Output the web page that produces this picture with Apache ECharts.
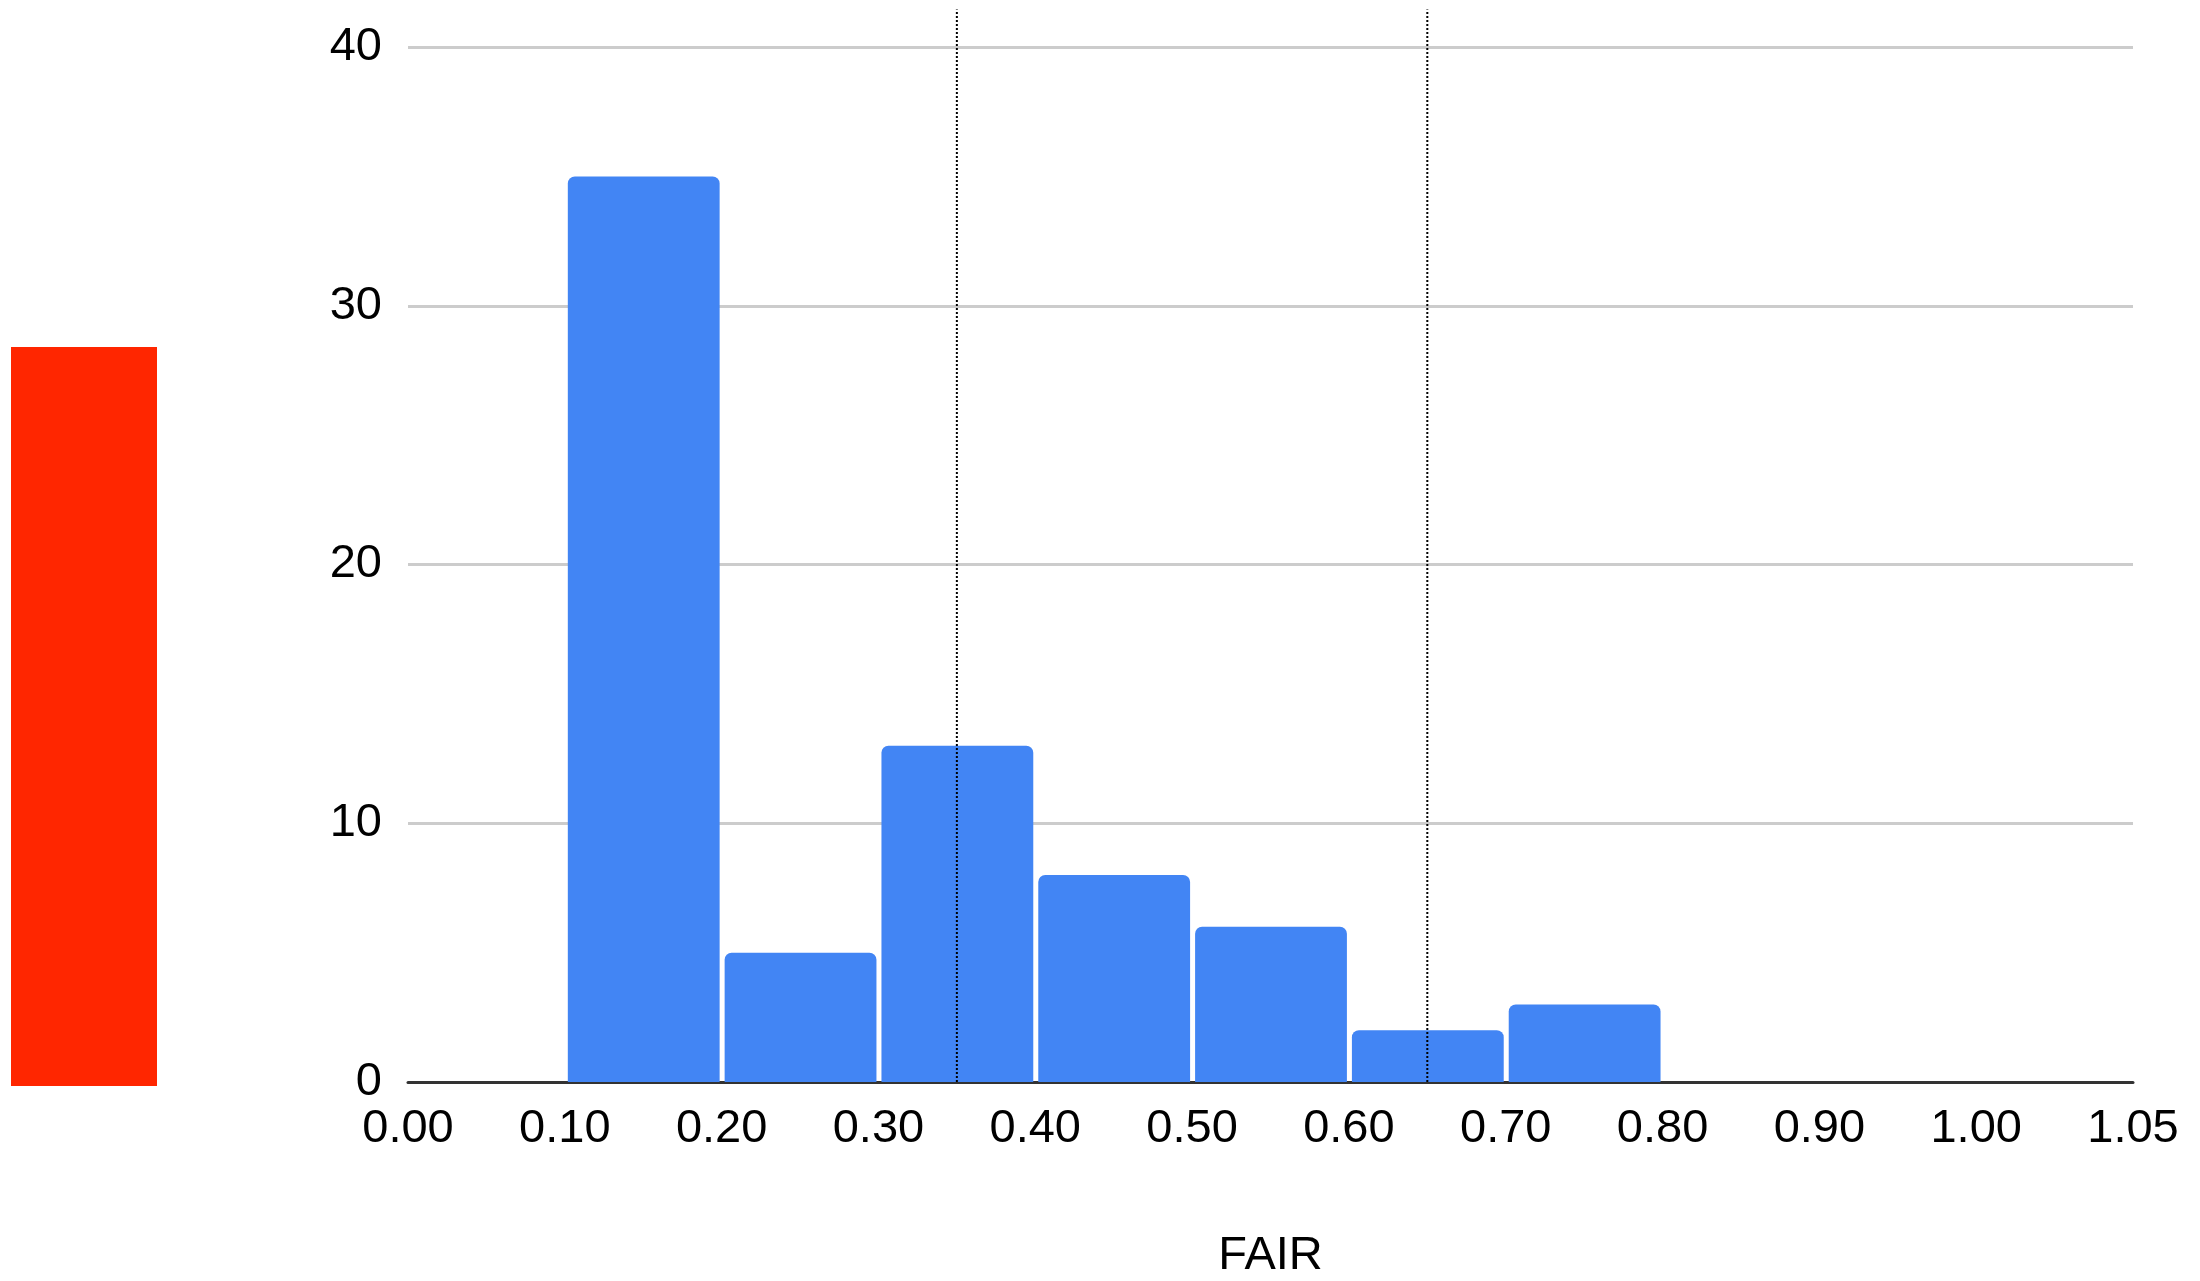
<!DOCTYPE html>
<html>
<head>
<meta charset="utf-8">
<script src="https://cdn.jsdelivr.net/npm/echarts@6/dist/echarts.min.js"></script>
<style>
html,body{margin:0;padding:0;background:#fff;}
#chart{width:2200px;height:1281px;}
</style>
</head>
<body>
<div id="chart"></div>
<script>
// Bucket boundary labels (equal-width slots on the x axis)
const tickLabels = ['0.00','0.10','0.20','0.30','0.40','0.50','0.60','0.70','0.80','0.90','1.00','1.05'];
// Histogram buckets: start value of each bucket and counts
const binStarts = [0.10, 0.20, 0.30, 0.40, 0.50, 0.60, 0.70];
const binWidth = 0.10;
const counts = [35, 5, 13, 8, 6, 2, 3];
// Dotted reference lines (FAIR values)
const refLines = [0.35, 0.65];
const yTicks = [0, 10, 20, 30, 40];

// map a FAIR value (< 1.00) to its slot position on the axis
const pos = v => Math.round(v / 0.1 * 1000) / 1000;

const barData = binStarts.map((s, i) => [pos(s), pos(s + binWidth), counts[i]]);
const lineData = refLines.map(v => [pos(v)]);

const font = "'Liberation Sans', Arial, Helvetica, sans-serif";
const chart = echarts.init(document.getElementById('chart'), null, {renderer: 'canvas'});
chart.setOption({
  animation: false,
  backgroundColor: '#ffffff',
  grid: {left: 408, right: 67, top: 47, bottom: 199, containLabel: false, outerBoundsMode: 'none'},
  graphic: [{
    type: 'rect', left: 11, top: 347, shape: {width: 146, height: 739},
    style: {fill: '#ff2600'}, silent: true
  }],
  xAxis: {
    type: 'value', min: 0, max: tickLabels.length - 1, interval: 1,
    name: 'FAIR', nameLocation: 'middle', nameGap: 151,
    nameTextStyle: {fontFamily: font, fontSize: 47, color: '#000'},
    axisLine: {show: true, lineStyle: {color: '#333333', width: 3}},
    axisTick: {show: false},
    splitLine: {show: false},
    axisLabel: {
      fontFamily: font, fontSize: 47, color: '#000', margin: 24,
      formatter: v => tickLabels[Math.round(v)] ?? ''
    }
  },
  yAxis: {
    type: 'value', min: yTicks[0], max: yTicks[yTicks.length - 1], interval: 10,
    axisLine: {show: false},
    axisTick: {show: false},
    splitLine: {show: true, lineStyle: {color: '#cccccc', width: 3}},
    axisLabel: {fontFamily: font, fontSize: 47, color: '#000', margin: 26}
  },
  series: [{
    type: 'custom',
    data: barData,
    encode: {x: [0, 1], y: 2},
    z: 3,
    renderItem: (params, api) => {
      const p0 = api.coord([api.value(0), api.value(2)]);
      const p1 = api.coord([api.value(1), 0]);
      return {
        type: 'rect',
        shape: {x: p0[0] + 3, y: p0[1], width: p1[0] - p0[0] - 5, height: p1[1] - p0[1], r: [7, 7, 0, 0]},
        style: {fill: '#4285f4'}
      };
    }
  }, {
    type: 'custom',
    data: lineData,
    encode: {x: 0},
    z: 5,
    clip: false,
    renderItem: (params, api) => {
      const b = api.coord([api.value(0), 0]);
      const t = api.coord([api.value(0), 41.45]);
      return {
        type: 'line',
        shape: {x1: b[0], y1: b[1], x2: t[0], y2: t[1]},
        style: {stroke: '#000', lineWidth: 2, lineDash: [2, 2]}
      };
    }
  }]
});
</script>
</body>
</html>
